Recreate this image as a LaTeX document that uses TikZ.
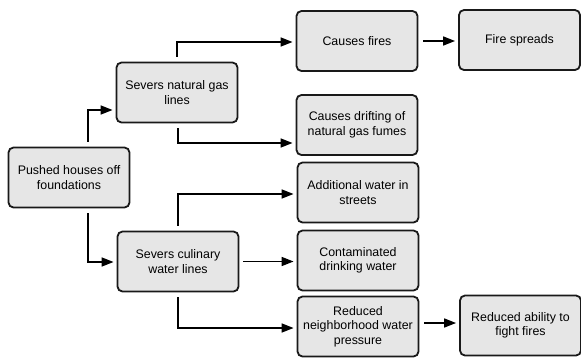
\documentclass[tikz,border=0pt]{standalone}
\usepackage{fontspec}
\setmainfont{Liberation Sans}
\usepackage{xcolor}
\usetikzlibrary{calc}
\usetikzlibrary{arrows.meta}
\definecolor{boxgray}{HTML}{E6E6E6}
\tikzset{
    box/.style={draw=black!90, fill=boxgray, line width=1.8pt, rounded corners=5pt,
        minimum width=121pt, minimum height=60pt, align=center,
        font=\fontsize{12.4}{14.5}\selectfont},
    arr/.style={line width=1.6pt, -{Triangle[length=12pt,width=9pt]},
        shorten <=5pt, shorten >=3pt}
}
\begin{document}
\begin{tikzpicture}[x=1pt,y=-1pt]
        \useasboundingbox (0,0) rectangle (581,357);
        %LEFT
        \node[box] (push) at (69,177.5) {Pushed houses off\\foundations};
        %MIDDLE
        \node[box] (gas) at (177,92.5) {Severs natural gas\\lines};
        \node[box] (cul) at (178,261.5) {Severs culinary\\water lines};
        %EFFECTS
        \node[box] (fires) at (357,41) {Causes fires};
        \node[box] (spread) at (519.5,40) {Fire spreads};
        \node[box] (drift) at (357,125) {Causes drifting of\\natural gas fumes};
        \node[box] (street) at (358,192.5) {Additional water in\\streets};
        \node[box] (drink) at (358,260.5) {Contaminated\\drinking water};
        \node[box] (press) at (358,326.5) {Reduced\\neighborhood water\\pressure};
        \node[box] (fight) at (520.5,325.5) {Reduced ability to\\fight fires};
        %ARROWS
        \draw[arr] ([xshift=19pt]push.north) |- ([yshift=-17.5pt]gas.west);
        \draw[arr] ([xshift=19pt]push.south) |- ([yshift=-0.5pt]cul.west);
        \draw[arr] (gas.north) |- ([yshift=-1pt]fires.west);
        \draw[arr] ([xshift=1pt]gas.south) |- ([yshift=-18pt]drift.west);
        \draw[arr] (fires.east) -- (fires.east -| spread.west);
        \draw[arr] (cul.north) |- ([yshift=-1.5pt]street.west);
        \draw[arr, shorten <=4pt] (cul.east) -- (cul.east -| drink.west);
        \draw[arr] (cul.south) |- ([yshift=-1.5pt]press.west);
        \draw[arr] ([yshift=3.5pt]press.east) -- ([yshift=3.5pt]press.east -| fight.west);
    \end{tikzpicture}
\end{document}
